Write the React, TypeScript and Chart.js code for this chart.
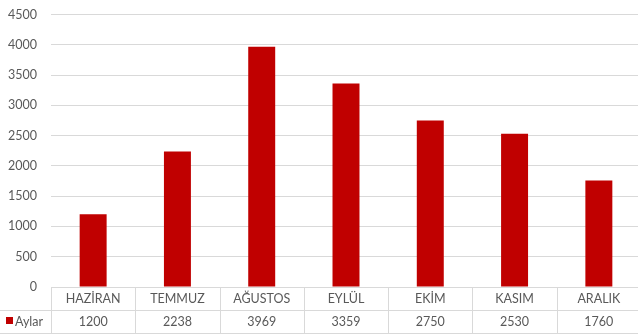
import React, { useEffect, useRef } from "react";
import { Chart, registerables } from "chart.js";

Chart.register(...registerables);

const categories = ["HAZİRAN", "TEMMUZ", "AĞUSTOS", "EYLÜL", "EKİM", "KASIM", "ARALIK"];
const values = [1200, 2238, 3969, 3359, 2750, 2530, 1760];
const seriesName = "Aylar";

const FONT = "Lato, 'Open Sans', sans-serif";
const TEXT = "#595959";
const GRID = "#D9D9D9";
const BAR = "#C00000";

const tablePlugin = {
  id: "dataTable",
  afterDraw(chart: any) {
    const ctx = chart.ctx;
    const area = chart.chartArea;
    const x = chart.scales.x;
    const n = categories.length;
    const colW = (area.right - area.left) / n;
    const top = area.bottom;
    const mid = top + 23;
    const bot = top + 46;
    ctx.save();
    ctx.strokeStyle = GRID;
    ctx.lineWidth = 1;
    ctx.beginPath();
    ctx.moveTo(area.left, top + 0.5);
    ctx.lineTo(chart.width, top + 0.5);
    ctx.moveTo(0, mid + 0.5);
    ctx.lineTo(chart.width, mid + 0.5);
    ctx.moveTo(0, bot + 0.5);
    ctx.lineTo(chart.width, bot + 0.5);
    for (let i = 0; i <= n; i++) {
      const lx = Math.round(area.left + i * colW) + 0.5;
      ctx.moveTo(lx, top);
      ctx.lineTo(lx, bot);
    }
    ctx.stroke();

    ctx.fillStyle = TEXT;
    ctx.font = `12.5px ${FONT}`;
    ctx.textAlign = "center";
    ctx.textBaseline = "middle";
    categories.forEach((c, i) => {
      const cx = x.getPixelForValue(i);
      ctx.fillText(c, cx, top + 12);
      ctx.fillText(String(values[i]), cx, mid + 12);
    });
    // legend key
    ctx.fillStyle = BAR;
    ctx.fillRect(6, mid + 7, 7, 7);
    ctx.fillStyle = TEXT;
    ctx.textAlign = "left";
    ctx.fillText(seriesName, 15, mid + 12);
    ctx.restore();
  },
};

export default function App() {
  const ref = useRef<HTMLCanvasElement>(null);
  useEffect(() => {
    if (!ref.current) return;
    const chart = new Chart(ref.current, {
      type: "bar",
      data: {
        labels: categories,
        datasets: [
          {
            label: seriesName,
            data: values,
            backgroundColor: BAR,
            borderWidth: 0,
            categoryPercentage: 1,
            barPercentage: 0.32,
          },
        ],
      },
      options: {
        responsive: false,
        animation: false,
        devicePixelRatio: 1,
        layout: { padding: { left: 0, right: 9, top: 6, bottom: 47 } },
        plugins: { legend: { display: false }, tooltip: { enabled: false } },
        scales: {
          x: { display: false, grid: { display: false } },
          y: {
            min: 0,
            max: 4500,
            border: { display: false },
            grid: { color: GRID, drawTicks: false, tickLength: 0 },
            ticks: {
              stepSize: 500,
              padding: 14,
              color: TEXT,
              font: { family: FONT, size: 12.5 },
              callback: (v: any) => String(v),
            },
            afterFit(scale: any) {
              scale.width = 51;
            },
          },
        },
      },
      plugins: [tablePlugin],
    });
    return () => chart.destroy();
  }, []);
  return (
    <div style={{ position: "fixed", left: 0, top: 0, width: 638, height: 334, overflow: "hidden", background: "#fff" }}>
      <canvas ref={ref} width={650} height={341} style={{ display: "block", position: "absolute", left: 0, top: -7 }} />
    </div>
  );
}
